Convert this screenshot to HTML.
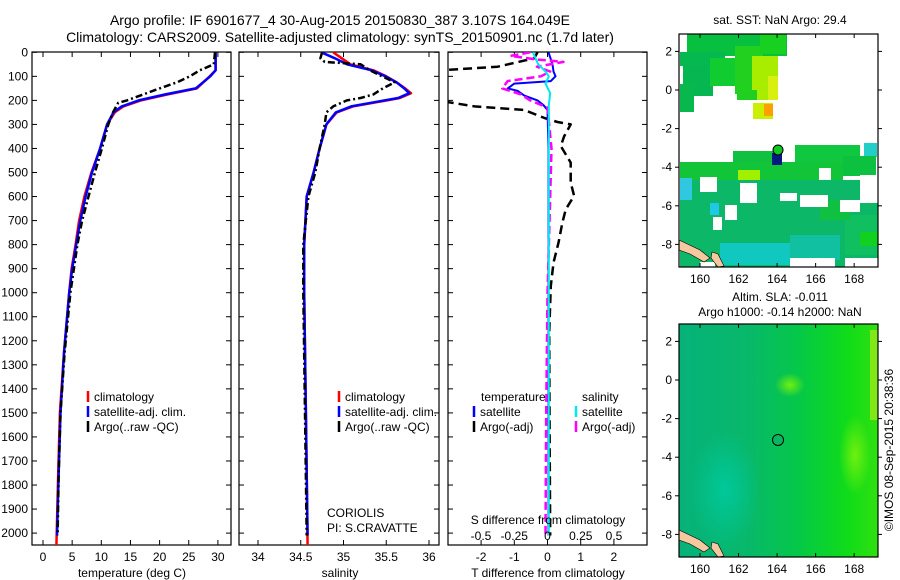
<!DOCTYPE html>
<html><head><meta charset="utf-8">
<style>
html,body{margin:0;padding:0;background:#fff;}
svg{display:block;font-family:"Liberation Sans",sans-serif;}
text{fill:#000;}
</style></head>
<body>
<svg id="fig" width="900" height="580" xmlns="http://www.w3.org/2000/svg">
<defs>
<clipPath id="c1"><rect x="32" y="52" width="199" height="493"/></clipPath>
<clipPath id="c2"><rect x="239" y="52" width="200" height="493"/></clipPath>
<clipPath id="c3"><rect x="448" y="52" width="199" height="493"/></clipPath>
<clipPath id="cm1"><rect x="679" y="34" width="199" height="233"/></clipPath>
<clipPath id="cm2"><rect x="679" y="324" width="199" height="233"/></clipPath>
<linearGradient id="slaG" x1="0" y1="0" x2="1" y2="0">
<stop offset="0" stop-color="#06b27a"/><stop offset="0.35" stop-color="#08b86a"/>
<stop offset="0.6" stop-color="#05c848"/><stop offset="0.85" stop-color="#10dc18"/><stop offset="1" stop-color="#30e010"/>
</linearGradient>
<radialGradient id="slaTeal"><stop offset="0" stop-color="#00c89a"/><stop offset="1" stop-color="#00c89a" stop-opacity="0"/></radialGradient>
<radialGradient id="slaYel"><stop offset="0" stop-color="#70f010"/><stop offset="1" stop-color="#70f010" stop-opacity="0"/></radialGradient>
</defs>
<text x="340" y="25" font-size="14" text-anchor="middle">Argo profile: IF 6901677_4 30-Aug-2015 20150830_387 3.107S 164.049E</text>
<text x="340" y="42" font-size="14" text-anchor="middle">Climatology: CARS2009. Satellite-adjusted climatology: synTS_20150901.nc (1.7d later)</text>
<g id="g1"></g>
<g id="g2"></g>
<g id="g3"></g>
<g id="m1"></g>
<g id="m2"></g>
<text transform="translate(893,450) rotate(-90)" font-size="12" text-anchor="middle">©IMOS 08-Sep-2015 20:38:36</text>
</svg>
<script>
// ---- data ----
const depthTicks = [0,100,200,300,400,500,600,700,800,900,1000,1100,1200,1300,1400,1500,1600,1700,1800,1900,2000];
const tempTicks = [0,5,10,15,20,25,30];
const salTicks = [34,34.5,35,35.5,36];
const tdiffTicks = [-2,-1,0,1,2];
const sdiffTicks = [-0.5,-0.25,0,0.25,0.5];
const sdiffLabels = ["-0.5","-0.25","0","0.25","0.5"];

const tClimDepth = [0,75,100,150,175,200,225,250,300,400,500,600,700,800,900,1000,1250,1500,1750,2055];
const tClim = [29.6,29.6,28.6,26.4,21.4,16.8,13.8,12.3,11.0,9.8,8.3,7.1,6.2,5.6,4.9,4.5,3.6,2.9,2.6,2.3];
const tSatDepth = [0,75,100,150,175,200,225,250,300,400,500,600,700,800,900,1000,1250,1500,1750,2010];
const tSat = [29.6,29.6,28.7,26.2,21.0,16.4,13.5,12.1,11.0,9.8,8.4,7.3,6.4,5.7,5.0,4.5,3.6,3.0,2.7,2.4];
const tArgoDepth = [0,50,75,100,125,150,175,200,210,250,300,400,500,600,700,800,900,1000,1250,1500,1750,2010];
const tArgo = [29.5,29.3,26.9,25.2,23.0,20.0,17.2,14.4,12.9,12.0,11.2,10.1,8.9,7.8,6.7,5.9,5.3,4.7,3.7,3.0,2.7,2.5];

const sClimDepth = [0,25,50,75,100,125,150,170,190,210,225,250,300,400,500,600,800,1000,1500,2055];
const sClim = [34.88,34.98,35.08,35.35,35.5,35.62,35.72,35.79,35.66,35.35,35.11,34.92,34.8,34.72,34.65,34.57,34.54,34.54,34.56,34.58];
const sSatDepth = [0,25,50,75,100,125,150,170,190,210,225,250,300,400,500,600,800,1000,1500,2010];
const sSat = [34.74,34.9,35.04,35.33,35.49,35.62,35.71,35.77,35.64,35.32,35.09,34.91,34.8,34.72,34.65,34.57,34.54,34.54,34.56,34.58];
const sArgoDepth = [0,25,40,50,75,100,125,150,175,190,200,225,250,300,400,500,600,800,1000,1500,2010];
const sArgo = [34.75,34.73,34.78,35.2,35.31,35.45,35.6,35.46,35.35,35.2,35.04,34.88,34.8,34.78,34.72,34.67,34.59,34.53,34.53,34.55,34.57];

const dTDepth = [0,25,60,75,90,190,207,225,240,273,290,300,350,390,459,542,597,653,708,792,875,972,1165,1500,2010];
const dTArgo = [-0.3,-0.4,-1.5,-3.2,-4,-4,-3.0,-2.2,-0.7,-0.1,0.3,0.7,0.5,0.4,0.7,0.7,0.8,0.55,0.45,0.33,0.18,0.1,0.05,0.06,0.08];
const dTSatDepth = [0,50,80,100,120,130,150,160,180,200,220,240,400,800,1500,2010];
const dTSat = [0.03,0.15,0.18,0.24,0.1,-1.0,-1.2,-0.9,-0.7,-0.3,-0.12,0,0.03,0.03,0.03,0.03];
const dSArgoDepth = [0,15,30,40,60,80,100,120,150,175,200,230,400,600,1000,1500,2010];
const dSArgo = [-0.13,-0.28,-0.08,0.12,-0.08,0.02,-0.05,-0.3,-0.34,-0.2,-0.13,0,0.03,0.02,0.0,-0.01,-0.015];
const dSSatDepth = [0,50,80,100,130,170,220,500,1000,2010];
const dSSat = [-0.11,-0.07,-0.015,0.01,-0.015,0.02,0.01,0.01,0.01,0.01];

const lonTicks = [160,162,164,166,168];
const latTicks = [2,0,-2,-4,-6,-8];
const argoLon = [164.049];
const argoLat = [-3.107];

// ---- helpers ----
const NS="http://www.w3.org/2000/svg";
function mk(tag, attrs, parent){const e=document.createElementNS(NS,tag);for(const k in attrs)e.setAttribute(k,attrs[k]);parent.appendChild(e);return e;}
const yD = d => 52.3 + d*0.2404;
const xT = t => 43 + t*5.83;
const xS = s => 258 + (s-34)*85.5;
const xDT = v => 547.5 + v*33.2;
const xDS = v => 547.5 + v*133;

function panel(g, x0, w, xs, ticks, fmt, clip){
  const fr = mk('rect',{x:x0,y:52,width:w,height:493,fill:'none',stroke:'#000','stroke-width':1.2},g);
  
  
  depthTicks.forEach(d=>{
    const y=yD(d);
    mk('line',{x1:x0,x2:x0+5,y1:y,y2:y,stroke:'#000'},g);
    mk('line',{x1:x0+w-5,x2:x0+w,y1:y,y2:y,stroke:'#000'},g);
  });
  ticks.forEach((t,i)=>{
    const x=xs(t);
    mk('line',{x1:x,x2:x,y1:52,y2:57,stroke:'#000'},g);
    mk('line',{x1:x,x2:x,y1:540,y2:545,stroke:'#000'},g);
    const tx=mk('text',{x:x,y:561,'font-size':12,'text-anchor':'middle'},g);
    tx.textContent = fmt(t);
    
    
  });
}
function line(g, xs, vals, depths, color, dash, w, clip, name){
  const pts = vals.map((v,i)=>xs(v).toFixed(1)+','+yD(depths[i]).toFixed(1)).join(' ');
  const p = mk('polyline',{points:pts,fill:'none',stroke:color,'stroke-width':w||2.5,'clip-path':'url(#'+clip+')','stroke-linejoin':'round'},g);
  if(dash) p.setAttribute('stroke-dasharray',dash);
  
  
}
function legendEntry(g,x,y,color,label){
  mk('line',{x1:x,x2:x,y1:y-10,y2:y+1,stroke:color,'stroke-width':2.5},g);
  const t=mk('text',{x:x+6,y:y,'font-size':12},g); t.textContent=label;
  
  
}
function txt(g,x,y,s,anchor,size,name){const t=mk('text',{x:x,y:y,'font-size':size||12,'text-anchor':anchor||'start'},g);t.textContent=s;
  
  return t;}

// depth labels
const g1=document.getElementById('g1'),g2=document.getElementById('g2'),g3=document.getElementById('g3');
depthTicks.forEach(d=>txt(g1,28,yD(d)+4,String(d),'end',12,'y-tick-label'));

// panel 1
panel(g1,32,199,xT,tempTicks,t=>String(t),'c1');
line(g1,xT,tClim,tClimDepth,'#ff0000',null,2.5,'c1','temp-climatology-line');
line(g1,xT,tSat,tSatDepth,'#0000ff',null,2.5,'c1','temp-satellite-line');
line(g1,xT,tArgo,tArgoDepth,'#000000','7,3,2,3',2.5,'c1','temp-argo-line');
legendEntry(g1,88,401,'#ff0000','climatology');
legendEntry(g1,88,416,'#0000ff','satellite-adj. clim.');
legendEntry(g1,88,431,'#000000','Argo(..raw -QC)');
txt(g1,132,577,'temperature (deg C)','middle',12,'x-axis-title');

// panel 2
panel(g2,239,200,xS,salTicks,t=>String(t),'c2');
line(g2,xS,sClim,sClimDepth,'#ff0000',null,2.5,'c2','sal-climatology-line');
line(g2,xS,sSat,sSatDepth,'#0000ff',null,2.5,'c2','sal-satellite-line');
line(g2,xS,sArgo,sArgoDepth,'#000000','7,3,2,3',2.5,'c2','sal-argo-line');
legendEntry(g2,339,401,'#ff0000','climatology');
legendEntry(g2,339,416,'#0000ff','satellite-adj. clim.');
legendEntry(g2,339,431,'#000000','Argo(..raw -QC)');
txt(g2,327,517,'CORIOLIS','start',12,'data-centre-label');
txt(g2,327,532,'PI: S.CRAVATTE','start',12,'pi-label');
txt(g2,340,577,'salinity','middle',12,'x-axis-title');

// panel 3
panel(g3,448,199,xDT,tdiffTicks,t=>String(t),'c3');
line(g3,xDT,dTArgo,dTDepth,'#000000','9,5',2.5,'c3','tdiff-argo-line');
line(g3,xDT,dTSat,dTSatDepth,'#0000ff',null,2,'c3','tdiff-satellite-line');
line(g3,xDS,dSArgo,dSArgoDepth,'#ff00ff','8,4',2.5,'c3','sdiff-argo-line');
line(g3,xDS,dSSat,dSSatDepth,'#00e8f0',null,2,'c3','sdiff-satellite-line');
txt(g3,481,401,'temperature','start',12,'legend-heading-temperature');
legendEntry(g3,474,416,'#0000ff','satellite');
legendEntry(g3,474,431,'#000000','Argo(-adj)');
txt(g3,582,401,'salinity','start',12,'legend-heading-salinity');
legendEntry(g3,576,416,'#00e8f0','satellite');
legendEntry(g3,576,431,'#ff00ff','Argo(-adj)');
txt(g3,548,524,'S difference from climatology','middle',12,'s-axis-title');
sdiffTicks.forEach((v,i)=>txt(g3,xDS(v),540,sdiffLabels[i],'middle',12,'s-tick-label'));
txt(g3,548,577,'T difference from climatology','middle',12,'x-axis-title');

// ---- maps ----
const xL = lon => 700 + (lon-160)*19.27;
function mapAxes(g, y0, top){
  const yLat = lat => y0 - lat*19.3;
  const fr=mk('rect',{x:679,y:top,width:199,height:233,fill:'none',stroke:'#000','stroke-width':1.2},g);
  
  
  lonTicks.forEach(l=>{const x=xL(l);
    mk('line',{x1:x,x2:x,y1:top,y2:top+4,stroke:'#000'},g);
    mk('line',{x1:x,x2:x,y1:top+229,y2:top+233,stroke:'#000'},g);
    txt(g,x,top+249,String(l),'middle',12,'lon-tick-label');});
  latTicks.forEach(l=>{const y=yLat(l);
    mk('line',{x1:675,x2:679,y1:y,y2:y,stroke:'#000'},g);
    mk('line',{x1:878,x2:882,y1:y,y2:y,stroke:'#000'},g);
    txt(g,672,y+4,String(l),'end',12,'lat-tick-label');});
  return yLat;
}
const m1=document.getElementById('m1'), m2=document.getElementById('m2');
txt(m1,780,24,'sat. SST: NaN Argo: 29.4','middle',12,'sst-map-title');
const P=[ // SST patches: x,y,w,h,color
[687,34,100,22,'#08c040'],[680,52,45,14,'#06b850'],[683,66,30,30,'#06b650'],[680,84,14,28,'#08b84c'],
[710,58,26,28,'#10cc30'],[735,46,28,48,'#22d020'],[752,56,26,44,'#a8ec00'],[768,76,10,24,'#d8f010'],
[753,103,20,16,'#c8f000'],[764,104,9,12,'#ffa000'],[737,90,20,10,'#20d020'],[760,34,26,20,'#18d020'],
[733,151,40,12,'#10c040'],[795,145,65,18,'#10c840'],[864,143,13,14,'#20d0c8'],
[680,162,163,18,'#12c438'],[843,156,33,20,'#0cc040'],[738,170,22,10,'#a0f000'],[745,180,55,14,'#10c830'],
[680,180,200,87,'#0cb868'],[680,178,12,22,'#30c8e0'],[710,203,9,12,'#20c8e8'],[720,243,70,22,'#10c8c0'],
[790,235,50,25,'#10c0a0'],[845,215,33,40,'#10c060'],[860,232,18,14,'#10d020'],[820,200,30,20,'#10c040']];
P.forEach(r=>{const e=mk('rect',{x:r[0],y:r[1],width:r[2],height:r[3],fill:r[4],'clip-path':'url(#cm1)'},m1);
  
  });
const W=[[700,177,17,15],[740,183,17,20],[780,193,17,8],[713,217,9,13],[725,205,12,15],[800,195,28,12],[840,200,20,12],[860,175,18,28],[790,258,45,9],[700,262,15,5],[845,258,33,9],[819,168,12,12]];
W.forEach(r=>{const e=mk('rect',{x:r[0],y:r[1],width:r[2],height:r[3],fill:'#fff'},m1);
  
  });
const n1=mk('rect',{x:772,y:153,width:10,height:12,fill:'#001a80'},m1);


mk('path',{d:'M679,240 L700,250 L710,258 L704,262 L690,254 L679,250Z',fill:'#f5c8a0',stroke:'#000','stroke-width':0.6},m1);
mk('path',{d:'M712,252 L718,254 L724,266 L718,267 L711,258Z',fill:'#f5c8a0',stroke:'#000','stroke-width':0.6},m1);
const yLat1 = mapAxes(m1,90,34);
const c1=mk('circle',{cx:xL(argoLon[0]),cy:yLat1(argoLat[0]),r:5,fill:'#10c820',stroke:'#000','stroke-width':1},m1);



txt(m2,780,301,'Altim. SLA: -0.011','middle',12,'sla-map-title-1');
txt(m2,780,316,'Argo h1000: -0.14 h2000: NaN','middle',12,'sla-map-title-2');
const bg=mk('rect',{x:679,y:324,width:199,height:233,fill:'url(#slaG)'},m2);


mk('ellipse',{cx:725,cy:490,rx:35,ry:60,fill:'url(#slaTeal)'},m2);
mk('ellipse',{cx:855,cy:455,rx:16,ry:40,fill:'url(#slaYel)'},m2);
mk('ellipse',{cx:790,cy:385,rx:15,ry:12,fill:'url(#slaYel)'},m2);
mk('rect',{x:870,y:330,width:8,height:90,fill:'#80e818'},m2);
mk('path',{d:'M679,530 L700,540 L710,548 L704,552 L690,544 L679,540Z',fill:'#f5c8a0',stroke:'#000','stroke-width':0.6},m2);
mk('path',{d:'M712,542 L718,544 L724,556 L718,557 L711,548Z',fill:'#f5c8a0',stroke:'#000','stroke-width':0.6},m2);
const yLat2 = mapAxes(m2,380,324);
const c2=mk('circle',{cx:xL(argoLon[0]),cy:yLat2(argoLat[0]),r:5.5,fill:'#08b860',stroke:'#000','stroke-width':1},m2);


</script>
</body></html>
